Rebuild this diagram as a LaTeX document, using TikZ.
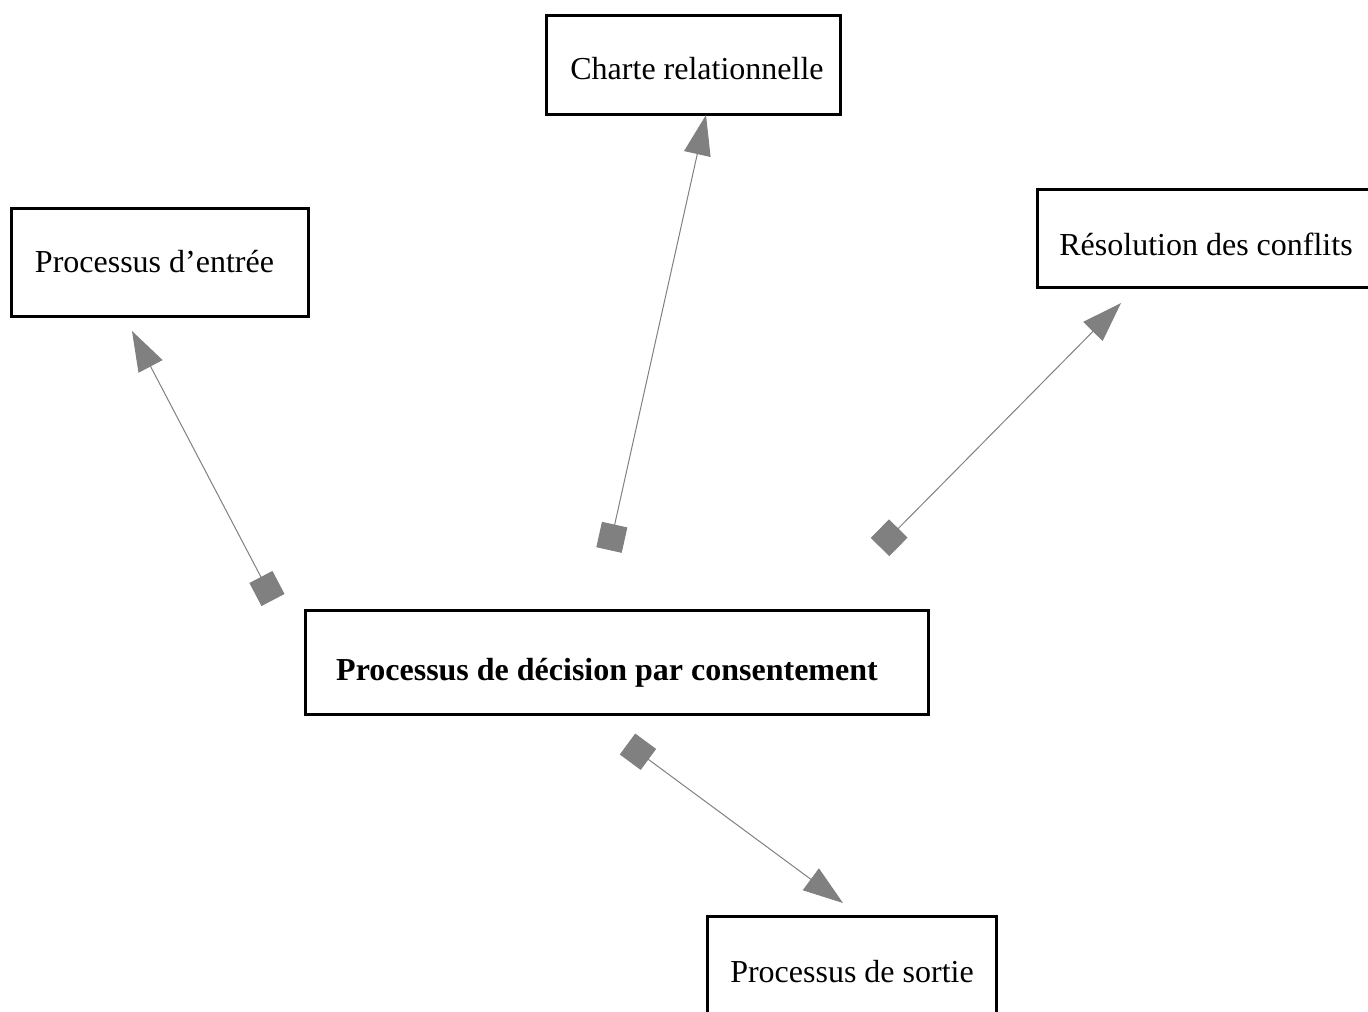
\documentclass[tikz,border=0pt]{standalone}
\usepackage{fontspec}
\setmainfont{Liberation Serif}
\usetikzlibrary{arrows.meta}

\begin{document}
\begin{tikzpicture}[x=0.5pt,y=-0.5pt,
    box/.style={draw,line width=1.5pt,inner sep=0pt,text depth=0pt,font=\fontsize{16}{19}\selectfont},
    link/.style={draw=gray,line width=0.5pt,{Square[length=13pt,width=13pt]}-{Triangle[length=20pt,width=13.5pt]}}]
      \useasboundingbox (0,0) rectangle (1368,1011);
      \clip (0,0) rectangle (1368,1011);

      \node[box,minimum width=147pt,minimum height=49pt,text height=15pt] at (693,65) (charte) {\hspace*{4pt}Charte relationnelle};
      \node[box,minimum width=148.5pt,minimum height=54pt,text height=9.5pt] at (160,262.5) (entree) {Processus d’entrée\hspace*{5.5pt}};
      \node[box,minimum width=169pt,minimum height=49pt,text height=17pt] at (1206,238) (resol) {Résolution des conflits};
      \node[box,minimum width=311.5pt,minimum height=52pt,text height=17.5pt] at (617,662.5) (decis) {\textbf{Processus de décision par consentement}\hspace*{10pt}};
      \node[box,minimum width=144.5pt,minimum height=52pt,text height=14pt] at (852,968) (sortie) {Processus de sortie};

      \coordinate (d1) at (609,550);   \coordinate (a1) at (706,115);
      \coordinate (d2) at (273,600);   \coordinate (a2) at (132,331);
      \coordinate (d3) at (880,547);   \coordinate (a3) at (1121,303);
      \coordinate (d4) at (627.5,744); \coordinate (a4) at (843,903);

      \draw[link] (d1)--(a1);
      \draw[link] (d2)--(a2);
      \draw[link] (d3)--(a3);
      \draw[link] (d4)--(a4);
\end{tikzpicture}
\end{document}
